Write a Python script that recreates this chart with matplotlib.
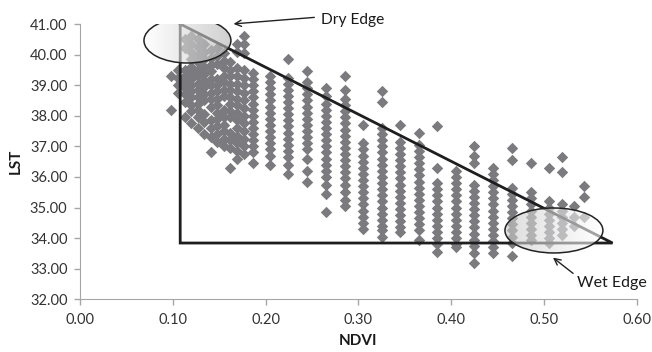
import numpy as np
import matplotlib
matplotlib.use("Agg")
import matplotlib.pyplot as plt
import matplotlib.colors as mcolors
from matplotlib.patches import Ellipse

plt.rcParams['font.family'] = ['Lato', 'DejaVu Sans']

# NDVI position of each column of pixels and the LST values read in that column
ndvi_columns = [0.098, 0.106, 0.113, 0.120, 0.127, 0.134, 0.141, 0.148, 0.155, 0.162,
                0.169, 0.177, 0.186, 0.205, 0.224, 0.245, 0.265, 0.286, 0.305, 0.325,
                0.345, 0.365, 0.385, 0.405, 0.425, 0.445, 0.466, 0.486, 0.506, 0.520,
                0.532, 0.543]
lst_columns = [
    [39.3, 38.2],
    [39.5, 39.25, 39.0, 38.75],
    [40.5, 40.2, 39.5, 39.3, 39.1, 38.9, 38.7, 38.45, 37.95],
    [40.6, 40.35, 40.1, 39.85, 39.6, 39.4, 39.2, 39.0, 38.8, 38.6, 38.35, 38.15, 37.75],
    [40.5, 40.25, 40.0, 39.75, 39.5, 39.3, 39.05, 38.85, 38.6, 38.4, 38.2, 37.95, 37.6],
    [40.35, 40.1, 39.85, 39.6, 39.35, 39.15, 38.95, 38.7, 38.5, 38.05, 37.8, 37.4],
    [40.15, 39.9, 39.65, 39.45, 39.2, 39.0, 38.75, 38.55, 38.3, 37.85, 37.6, 37.3, 36.8],
    [40.2, 39.95, 39.7, 39.2, 39.0, 38.8, 38.55, 38.35, 38.1, 37.9, 37.65, 37.4, 37.15],
    [40.05, 39.8, 39.55, 39.3, 39.1, 38.85, 38.65, 38.2, 37.95, 37.7, 37.5, 37.25, 37.0],
    [39.75, 39.5, 39.3, 39.05, 38.85, 38.6, 38.4, 38.15, 37.95, 37.45, 37.2, 36.95, 36.3],
    [40.35, 40.1, 39.55, 39.3, 39.05, 38.8, 38.55, 38.35, 38.1, 37.85, 37.6, 37.35, 37.1, 36.85, 36.6],
    [40.6, 40.35, 40.05, 39.5, 39.25, 39.0, 38.75, 38.5, 38.25, 38.0, 37.75, 37.5, 37.25, 37.0, 36.75],
    [39.4, 39.2, 39.0, 38.8, 38.6, 38.4, 38.2, 38.0, 37.8, 37.6, 37.4, 37.2, 37.0, 36.8, 36.45],
    [39.3, 39.1, 38.9, 38.7, 38.5, 38.3, 38.1, 37.9, 37.7, 37.5, 37.3, 37.1, 36.9, 36.7, 36.4],
    [39.85, 39.25, 39.05, 38.85, 38.65, 38.45, 38.25, 38.05, 37.85, 37.65, 37.45, 37.25, 37.05,
     36.85, 36.65, 36.4, 36.1],
    [39.45, 39.1, 38.9, 38.7, 38.5, 38.3, 38.1, 37.9, 37.7, 37.5, 37.3, 37.1, 36.9, 36.6, 36.2, 35.85],
    [38.9, 38.65, 38.4, 38.2, 38.0, 37.8, 37.6, 37.4, 37.2, 37.0, 36.8, 36.6, 36.4, 36.2, 36.0,
     35.75, 35.45, 34.85],
    [39.3, 38.85, 38.55, 38.35, 38.15, 37.95, 37.75, 37.55, 37.35, 37.15, 36.95, 36.75, 36.55,
     36.35, 36.15, 35.95, 35.75, 35.5, 35.25, 35.05],
    [37.7, 37.1, 36.9, 36.7, 36.5, 36.3, 36.1, 35.9, 35.7, 35.5, 35.3, 35.1, 34.9, 34.7, 34.5, 34.3],
    [38.8, 38.45, 37.6, 37.4, 37.2, 37.0, 36.8, 36.6, 36.4, 36.2, 36.0, 35.8, 35.6, 35.4, 35.2,
     35.0, 34.8, 34.6, 34.4, 34.25, 34.05],
    [37.7, 37.15, 36.95, 36.75, 36.55, 36.35, 36.15, 35.95, 35.75, 35.55, 35.35, 35.15, 34.95,
     34.75, 34.55, 34.35, 34.2],
    [37.45, 37.05, 36.85, 36.65, 36.45, 36.25, 36.05, 35.85, 35.65, 35.45, 35.25, 35.05, 34.85,
     34.65, 34.45, 34.25, 33.95],
    [37.65, 36.3, 35.8, 35.6, 35.4, 35.2, 35.0, 34.8, 34.6, 34.4, 34.2, 34.0, 33.8, 33.55],
    [36.2, 36.0, 35.8, 35.6, 35.4, 35.2, 35.0, 34.8, 34.6, 34.4, 34.2, 34.0, 33.8, 33.7],
    [37.0, 36.7, 36.45, 35.75, 35.55, 35.35, 35.15, 34.95, 34.75, 34.55, 34.35, 34.15, 33.95,
     33.75, 33.5, 33.2],
    [36.3, 36.1, 35.9, 35.7, 35.5, 35.3, 35.1, 34.9, 34.7, 34.5, 34.3, 34.1, 33.9, 33.7, 33.5],
    [36.95, 36.55, 35.65, 35.45, 35.25, 35.05, 34.85, 34.65, 34.45, 34.25, 34.05, 33.85, 33.4],
    [36.45, 35.5, 35.3, 35.1, 34.9, 34.7, 34.5, 34.3, 34.1, 33.95],
    [36.3, 35.2, 35.0, 34.8, 34.6, 34.4, 34.2, 34.0, 33.85],
    [36.65, 36.15, 35.1, 34.9, 34.7, 34.5, 34.3, 34.1],
    [35.05, 34.7, 34.4],
    [35.7, 35.35, 34.7],
]

# edges of the triangle (NDVI, LST)
triangle_ndvi = [0.108, 0.108, 0.574, 0.108]
triangle_lst = [41.0, 33.84, 33.84, 41.0]

x_ticks = [0.0, 0.1, 0.2, 0.3, 0.4, 0.5, 0.6]
y_ticks = [32, 33, 34, 35, 36, 37, 38, 39, 40, 41]


def shaded_ellipse(ax, center, width, height, c_left, c_right, alpha):
    ell = Ellipse(center, width, height, facecolor='none', edgecolor='#222222', lw=1.1, zorder=5)
    ax.add_patch(ell)
    t = np.linspace(0, 1, 80)
    cl = np.array(mcolors.to_rgb(c_left))
    cr = np.array(mcolors.to_rgb(c_right))
    img = np.zeros((2, 80, 4))
    img[..., :3] = cl[None, None, :] * (1 - t[None, :, None]) + cr[None, None, :] * t[None, :, None]
    img[..., 3] = alpha
    ext = [center[0] - width / 2, center[0] + width / 2, center[1] - height / 2, center[1] + height / 2]
    im = ax.imshow(img, extent=ext, aspect='auto', zorder=4, interpolation='bilinear')
    im.set_clip_path(ell)


fig = plt.figure(figsize=(6.52, 3.52), dpi=100)
ax = fig.add_axes([0.1227, 0.1497, 0.8538, 0.7821])

ndvi = np.concatenate([[x] * len(v) for x, v in zip(ndvi_columns, lst_columns)])
lst = np.concatenate(lst_columns)
ax.scatter(ndvi, lst, marker='D', s=34, color='#7b7b7f', linewidths=0, zorder=2)

ax.plot(triangle_ndvi, triangle_lst, color='#1e1e1e', lw=2.0, zorder=3, solid_joinstyle='miter')

shaded_ellipse(ax, (0.1158, 40.46), 0.0937, 1.47, '#ffffff', '#b4b4b4', 0.62)
shaded_ellipse(ax, (0.5108, 34.25), 0.1056, 1.47, '#c8c8c8', '#ffffff', 0.6)

ax.annotate('Dry Edge', xy=(0.164, 41.0), xytext=(0.26, 41.12), ha='left', va='center',
            fontsize=11.2, color='#1a1a1a', annotation_clip=False,
            arrowprops=dict(arrowstyle='->', color='#222222', lw=1.0, relpos=(0, 0.75),
                            shrinkA=3, shrinkB=1))
ax.annotate('Wet Edge', xy=(0.5086, 33.39), xytext=(0.5356, 32.52), ha='left', va='center',
            fontsize=11.5, color='#1a1a1a', annotation_clip=False,
            arrowprops=dict(arrowstyle='->', color='#222222', lw=1.0, relpos=(0, 1.0),
                            shrinkA=1, shrinkB=1))

ax.set_xlim(0, 0.6)
ax.set_ylim(32, 41)
ax.set_xticks(x_ticks)
ax.set_yticks(y_ticks)
ax.set_xticklabels([f"{v:.2f}" for v in x_ticks])
ax.set_yticklabels([f"{v:.2f}" for v in y_ticks])
ax.tick_params(direction='out', length=4, width=1, color='#a6a6a6', labelsize=10.5,
               labelcolor='#333333')
ax.tick_params(axis='x', pad=6)
ax.tick_params(axis='y', pad=5)
for side in ['top', 'right']:
    ax.spines[side].set_visible(False)
for side in ['left', 'bottom']:
    ax.spines[side].set_color('#a6a6a6')

ax.set_xlabel('NDVI', fontsize=11, fontweight='bold', color='#1a1a1a', labelpad=5)
ax.set_ylabel('LST', fontsize=11, fontweight='bold', color='#1a1a1a', labelpad=5)

fig.savefig('out.png', dpi=100)
